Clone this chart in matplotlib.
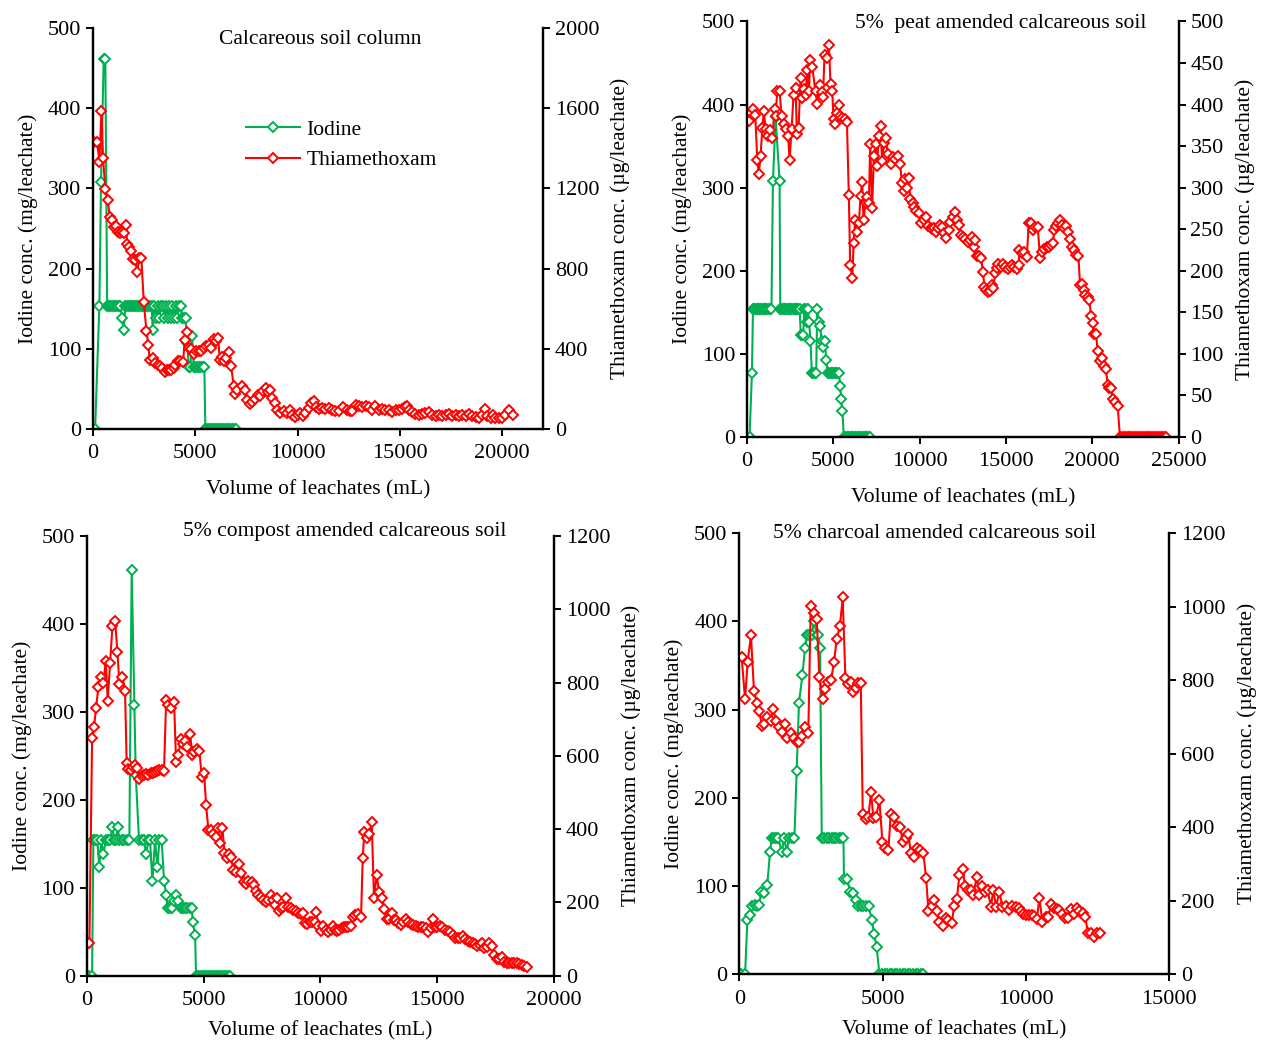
import matplotlib
matplotlib.use('Agg')
import matplotlib.pyplot as plt

plt.rcParams['font.family'] = ['Liberation Serif', 'DejaVu Serif']
plt.rcParams['font.size'] = 15.5

GREEN = '#00B050'
RED = '#FF0000'

# ---- Calcareous soil column ----
cal_iod_x = [100, 310, 390, 520, 600, 690, 770, 850, 930, 1010, 1090, 1170, 1250, 1340, 1420, 1500,
             1580, 1660, 1740, 1820, 1900, 1980, 2060, 2140, 2220, 2300, 2380, 2460, 2540, 2620, 2700,
             2780, 2860, 2920, 3000, 3080, 3160, 3240, 3320, 3400, 3480, 3560, 3640, 3720, 3800, 3880,
             3960, 4040, 4120, 4200, 4280, 4360, 4440, 4520, 4600, 4680, 4760, 4840, 4920, 5000, 5080,
             5160, 5240, 5320, 5400, 5440, 5490, 5570, 5650, 5730, 5810, 5890, 5970, 6050, 6130, 6210,
             6290, 6370, 6450, 6530, 6610, 6690, 6770, 6850, 6930, 7010]
cal_iod_y = [0, 153.8, 307.7, 461.5, 461.5, 153.8, 153.8, 153.8, 153.8, 153.8, 153.8, 153.8, 153.8, 153.8, 138.5, 123.1,
             153.8, 153.8, 153.8, 153.8, 153.8, 153.8, 153.8, 153.8, 153.8, 153.8, 153.8, 153.8, 153.8, 153.8, 153.8,
             153.8, 153.8, 123.1, 153.8, 138.5, 153.8, 138.5, 153.8, 153.8, 138.5, 153.8, 138.5, 153.8, 138.5, 153.8,
             138.5, 153.8, 138.5, 153.8, 153.8, 138.5, 138.5, 138.5, 107.7, 76.9, 76.9, 115.4, 76.9, 76.9, 76.9,
             76.9, 76.9, 76.9, 76.9, 76.9, 0, 0, 0, 0, 0, 0, 0, 0, 0, 0,
             0, 0, 0, 0, 0, 0, 0, 0, 0, 0]
cal_thx_x = [30, 200, 310, 410, 490, 600, 720, 815, 930, 1010, 1125, 1205, 1300, 1420, 1500, 1630, 1660,
             1780, 1875, 1960, 2070, 2150, 2270, 2360, 2480, 2610, 2705, 2770, 2935, 3050, 3180, 3290,
             3390, 3505, 3620, 3730, 3830, 3945, 4025, 4140, 4270, 4400, 4480, 4600, 4680, 4810, 4920,
             5040, 5170, 5280, 5410, 5525, 5655, 5790, 5900, 6015, 6115, 6195, 6310, 6420, 6520, 6630,
             6750, 6880, 6960, 7040, 7290, 7420, 7530, 7660, 7780, 7900, 8050, 8180, 8310, 8430, 8540,
             8640, 8750, 8870, 9000, 9160, 9320, 9490, 9620, 9730, 9860, 10010, 10140, 10270, 10380,
             10550, 10660, 10790, 10920, 11035, 11200, 11360, 11520, 11690, 11850, 12010, 12225, 12390,
             12550, 12665, 12830, 12990, 13150, 13320, 13480, 13640, 13800, 13965, 14130, 14290, 14450,
             14620, 14785, 14950, 15110, 15270, 15355, 15435, 15600, 15760, 15930, 16090, 16250, 16415,
             16575, 16740, 16900, 17065, 17230, 17390, 17555, 17720, 17880, 18045, 18210, 18370, 18530,
             18700, 18860, 19020, 19140, 19270, 19430, 19560, 19670, 19840, 20000, 20160, 20330, 20520]
cal_thx_y = [1433, 1433, 1333, 1587, 1350, 1197, 1142, 1059, 1042, 1009, 1013, 984, 976, 984, 976, 1018, 921,
             910, 890, 847, 843, 785, 852, 855, 632, 490, 420, 342, 354, 329, 320, 312,
             304, 284, 295, 292, 295, 304, 320, 337, 337, 332, 445, 483, 403, 398, 373,
             387, 390, 390, 403, 415, 420, 403, 448, 437, 453, 345, 358, 337, 354, 382,
             312, 212, 176, 196, 216, 196, 146, 126, 133, 149, 171, 166, 188, 204, 183,
             193, 154, 129, 93, 80, 88, 80, 96, 71, 58, 71, 80, 66, 80,
             105, 129, 138, 108, 100, 103, 100, 103, 96, 91, 88, 108, 96,
             91, 88, 121, 116, 110, 113, 108, 96, 113, 96, 100, 96, 93,
             83, 93, 96, 100, 108, 113, 96, 83, 76, 71, 76, 80, 83,
             71, 66, 71, 66, 71, 75, 66, 70, 63, 70, 66, 76, 66,
             60, 55, 71, 100, 63, 55, 71, 55, 55, 55, 71, 93, 71]

# ---- 5% peat amended ----
peat_iod_x = [150, 290, 350, 420, 490, 560, 630, 700, 770, 840, 910, 980, 1050, 1120, 1190, 1260, 1330,
              1420, 1505, 1660, 1890, 1930, 2000, 2070, 2140, 2210, 2280, 2350, 2420, 2490, 2560, 2630,
              2700, 2770, 2840, 2910, 2980, 3050, 3120, 3190, 3260, 3330, 3400, 3460, 3530, 3600, 3680,
              3760, 3840, 3930, 4010, 4070, 4150, 4240, 4330, 4420, 4500, 4600, 4680, 4760, 4840, 4920,
              5000, 5080, 5160, 5240, 5320, 5400, 5460, 5530, 5610, 5690, 5770, 5850, 5930, 6010, 6090,
              6170, 6250, 6330, 6410, 6490, 6570, 6650, 6730, 6810, 6890, 6970, 7050, 7100]
peat_iod_y = [0, 76.9, 153.8, 153.8, 153.8, 153.8, 153.8, 153.8, 153.8, 153.8, 153.8, 153.8, 153.8, 153.8, 153.8, 153.8, 153.8,
              153.8, 307.7, 384.6, 307.7, 153.8, 153.8, 153.8, 153.8, 153.8, 153.8, 153.8, 153.8, 153.8, 153.8, 153.8,
              153.8, 153.8, 153.8, 153.8, 153.8, 153.8, 123.1, 123.1, 123.1, 153.8, 153.8, 138.5, 153.8, 138.5, 115.4,
              76.9, 76.9, 76.9, 76.9, 153.8, 138.5, 133.0, 115.4, 107.7, 115.4, 92.3, 76.9, 76.9, 76.9, 76.9,
              76.9, 76.9, 76.9, 76.9, 76.9, 61.5, 46.2, 30.8, 0, 0, 0, 0, 0, 0, 0,
              0, 0, 0, 0, 0, 0, 0, 0, 0, 0, 0, 0, 0]
peat_thx_x = [100, 210, 350, 480, 600, 690, 790, 890, 980, 1080, 1215, 1310, 1470, 1600, 1660, 1755, 1890,
              2005, 2120, 2275, 2390, 2470, 2585, 2700, 2815, 2895, 2990, 3105, 3200, 3300, 3395, 3490,
              3590, 3665, 3780, 3975, 4070, 4205, 4320, 4400, 4495, 4630, 4745, 4840, 4940, 5015, 5110,
              5210, 5305, 5400, 5520, 5650, 5790, 5900, 5980, 6100, 6175, 6270, 6365, 6480, 6580, 6675,
              6750, 6870, 6965, 7060, 7140, 7250, 7350, 7445, 7520, 7640, 7735, 7830, 7930, 8025, 8160,
              8315, 8450, 8600, 8740, 8870, 8970, 9070, 9180, 9280, 9375, 9470, 9610, 9700, 9800, 9950,
              10090, 10240, 10380, 10510, 10630, 10725, 10860, 10960, 11090, 11190, 11285, 11400, 11535,
              11690, 11785, 11920, 12055, 12150, 12270, 12400, 12540, 12655, 12790, 12925, 13040, 13135,
              13235, 13310, 13425, 13560, 13660, 13755, 13850, 13985, 14100, 14200, 14275, 14370, 14470,
              14565, 14720, 14855, 14970, 15105, 15240, 15355, 15490, 15625, 15740, 15780, 15930, 16070,
              16205, 16320, 16455, 16550, 16685, 16840, 16975, 17090, 17225, 17360, 17475, 17610, 17710,
              17805, 17900, 17995, 18130, 18250, 18385, 18480, 18615, 18710, 18830, 18960, 19060, 19195,
              19290, 19405, 19500, 19600, 19730, 19830, 19925, 20020, 20120, 20215, 20310, 20450, 20560,
              20660, 20795, 20890, 20990, 21085, 21180, 21335, 21470, 21600, 21710, 21820, 21930, 22040,
              22150, 22260, 22370, 22480, 22590, 22700, 22810, 22920, 23030, 23140, 23250, 23360, 23470,
              23580, 23690, 23800, 23910, 24020, 24130, 24240]
peat_thx_y = [380, 390, 394, 387, 333, 317, 338, 372, 392, 370, 362, 369, 360, 394, 386, 416, 416,
              386, 376, 370, 362, 333, 370, 412, 420, 364, 372, 432, 408, 419, 412, 441,
              416, 453, 445, 416, 401, 424, 415, 409, 460, 456, 472, 425, 416, 382, 376,
              390, 400, 386, 384, 383, 379, 291, 207, 191, 233, 261, 247, 257, 290, 307,
              261, 282, 289, 282, 352, 275, 338, 352, 326, 362, 374, 332, 354, 360, 341,
              328, 337, 334, 338, 328, 306, 296, 310, 300, 312, 286, 282, 277, 272, 269,
              257, 261, 265, 254, 251, 250, 251, 247, 251, 255, 253, 245, 239,
              249, 259, 265, 271, 261, 255, 243, 241, 238, 235, 237, 241, 229,
              237, 218, 218, 215, 199, 181, 177, 175, 176, 183, 179, 197, 203,
              208, 205, 208, 205, 202, 205, 207, 204, 202, 207, 225, 221, 222,
              217, 257, 257, 249, 253, 253, 215, 223, 226, 229, 229, 231, 233,
              249, 254, 258, 261, 255, 251, 254, 247, 238, 229, 225, 219, 218,
              183, 184, 177, 171, 168, 165, 145, 137, 124, 124, 103, 91, 95,
              86, 82, 63, 59, 59, 46, 42, 37, 0, 0, 0, 0, 0,
              0, 0, 0, 0, 0, 0, 0, 0, 0, 0, 0, 0, 0,
              0, 0, 0, 0, 0, 0, 0]

# ---- 5% compost amended ----
comp_iod_x = [115, 230, 285, 370, 455, 540, 615, 715, 815, 900, 1000, 1100, 1185, 1255, 1325, 1400,
              1500, 1600, 1710, 1825, 1925, 2040, 2100, 2240, 2355, 2455, 2540, 2640, 2710, 2810, 2925,
              3025, 3110, 3210, 3310, 3400, 3470, 3570, 3670, 3750, 3825, 3925, 4025, 4110, 4210, 4310,
              4425, 4495, 4540, 4640, 4680, 4760, 4840, 4920, 5000, 5080, 5160, 5240, 5320, 5400, 5480,
              5560, 5640, 5720, 5800, 5880, 5960, 6040, 6120]
comp_iod_y = [0, 0, 153.8, 153.8, 153.8, 123.1, 153.8, 138.5, 153.8, 153.8, 153.8, 169.2, 153.8, 153.8, 169.2, 153.8,
              153.8, 153.8, 153.8, 153.8, 461.5, 307.7, 228.0, 153.8, 153.8, 153.8, 138.5, 153.8, 153.8, 107.7, 153.8,
              123.1, 153.8, 153.8, 107.7, 92.3, 76.9, 76.9, 76.9, 84.6, 92.3, 84.6, 76.9, 76.9, 76.9, 76.9,
              76.9, 76.9, 61.5, 46.2, 0, 0, 0, 0, 0, 0, 0, 0, 0, 0, 0,
              0, 0, 0, 0, 0, 0, 0, 0]
comp_thx_x = [115, 230, 315, 400, 500, 615, 715, 815, 900, 1000, 1100, 1215, 1315, 1400, 1525, 1640, 1710,
              1785, 1885, 1970, 2070, 2170, 2255, 2355, 2455, 2540, 2640, 2740, 2825, 2925, 3025, 3110,
              3210, 3310, 3400, 3500, 3610, 3740, 3825, 3925, 4025, 4110, 4210, 4310, 4425, 4525, 4610,
              4710, 4825, 4925, 5025, 5110, 5210, 5310, 5420, 5525, 5620, 5710, 5810, 5895, 5995, 6095,
              6180, 6280, 6395, 6520, 6605, 6735, 6820, 6920, 7065, 7165, 7250, 7350, 7465, 7565, 7675,
              7775, 7875, 7960, 8060, 8135, 8235, 8320, 8420, 8535, 8635, 8735, 8850, 8960, 9060, 9160,
              9250, 9350, 9450, 9560, 9660, 9775, 9820, 9920, 10020, 10130, 10245, 10345, 10445, 10530,
              10630, 10730, 10815, 10915, 11015, 11100, 11200, 11300, 11390, 11485, 11600, 11745, 11815,
              11885, 11985, 12100, 12200, 12300, 12415, 12515, 12630, 12730, 12845, 12945, 13055, 13155,
              13245, 13340, 13440, 13555, 13655, 13770, 13870, 13985, 14100, 14200, 14300, 14410, 14525,
              14625, 14725, 14810, 14910, 15010, 15125, 15225, 15340, 15455, 15555, 15670, 15770, 15880,
              15980, 16095, 16195, 16310, 16410, 16525, 16625, 16725, 16840, 16940, 17025, 17125, 17240,
              17340, 17440, 17550, 17665, 17765, 17865, 17980, 18095, 18195, 18295, 18410, 18525, 18620,
              18720, 18835]
comp_thx_y = [90, 648, 680, 731, 787, 814, 800, 859, 751, 854, 954, 968, 884, 796, 814, 778, 581,
              563, 561, 570, 575, 566, 536, 545, 548, 550, 548, 552, 554, 557, 560, 561,
              561, 560, 752, 739, 730, 748, 584, 602, 645, 632, 641, 625, 660, 602, 611,
              620, 614, 541, 554, 466, 398, 399, 387, 379, 402, 361, 402, 336, 320, 331,
              323, 288, 284, 305, 281, 257, 250, 259, 257, 247, 232, 220, 216, 207, 202,
              208, 220, 207, 193, 213, 177, 184, 188, 211, 187, 184, 179, 177, 172, 168,
              170, 145, 141, 147, 147, 147, 175, 136, 123, 136, 126, 120, 126, 136,
              125, 123, 126, 129, 132, 132, 134, 136, 159, 166, 168, 161, 320,
              393, 375, 387, 420, 213, 275, 229, 211, 181, 154, 156, 170, 152,
              152, 143, 138, 147, 154, 147, 141, 138, 136, 134, 132, 132, 129,
              120, 129, 154, 132, 132, 136, 132, 126, 123, 120, 111, 102, 104,
              102, 108, 99, 96, 93, 90, 86, 81, 84, 90, 75, 79, 88,
              81, 56, 45, 45, 50, 38, 35, 35, 34, 35, 34, 32, 29,
              26, 23]

# ---- 5% charcoal amended ----
char_iod_x = [50, 200, 280, 370, 455, 545, 605, 700, 755, 860, 975, 1070, 1130, 1210, 1280, 1360, 1475,
              1570, 1650, 1735, 1825, 1920, 2000, 2080, 2200, 2290, 2350, 2430, 2525, 2605, 2700, 2755,
              2815, 2875, 2960, 3045, 3130, 3215, 3300, 3385, 3470, 3555, 3630, 3650, 3770, 3860, 3980,
              4070, 4150, 4235, 4325, 4420, 4510, 4620, 4700, 4790, 4885, 4975, 5065, 5155, 5245, 5335,
              5425, 5515, 5605, 5695, 5785, 5875, 5965, 6055, 6145, 6235, 6325, 6415]
char_iod_y = [0, 0, 62, 67, 77, 79, 77, 79, 93, 92, 101, 139, 154, 154, 154, 154, 139,
              154, 139, 154, 154, 154, 231, 308, 339, 370, 385, 385, 385, 400, 385, 385,
              370, 154, 154, 154, 154, 154, 154, 154, 154, 154, 154, 108, 108, 93, 92,
              84, 77, 77, 77, 77, 77, 62, 46, 31, 0, 0, 0, 0, 0, 0,
              0, 0, 0, 0, 0, 0, 0, 0, 0, 0, 0, 0]
char_thx_x = [80, 200, 290, 405, 510, 605, 700, 780, 860, 955, 1095, 1185, 1280, 1370, 1475, 1595, 1675,
              1790, 1905, 2000, 2095, 2175, 2290, 2405, 2490, 2605, 2700, 2790, 2905, 3000, 3105, 3200,
              3305, 3395, 3510, 3605, 3700, 3790, 3895, 3980, 4070, 4150, 4235, 4305, 4410, 4500, 4595,
              4675, 4770, 4885, 4990, 5080, 5200, 5280, 5395, 5490, 5605, 5700, 5805, 5895, 5980, 6095,
              6210, 6305, 6420, 6515, 6595, 6710, 6805, 6885, 6980, 7095, 7200, 7290, 7410, 7490, 7585,
              7675, 7790, 7875, 7965, 8080, 8165, 8280, 8375, 8480, 8570, 8665, 8770, 8860, 8955, 9070,
              9175, 9290, 9410, 9525, 9640, 9760, 9830, 9910, 10000, 10105, 10200, 10290, 10375, 10465,
              10570, 10690, 10780, 10875, 10980, 11070, 11165, 11270, 11360, 11455, 11560, 11655, 11770,
              11860, 11980, 12070, 12155, 12260, 12375, 12470, 12585]
char_thx_y = [862, 749, 851, 922, 772, 739, 717, 676, 681, 701, 688, 722, 688, 674, 660, 681, 642,
              656, 642, 633, 633, 649, 674, 656, 1002, 982, 966, 810, 749, 775, 794, 801,
              851, 912, 948, 1026, 805, 790, 795, 769, 778, 792, 792, 436, 422, 429, 495,
              424, 429, 473, 361, 344, 339, 436, 427, 404, 402, 361, 370, 382, 331, 320,
              343, 339, 329, 261, 173, 186, 202, 171, 141, 132, 152, 148, 139, 186, 204,
              270, 286, 240, 229, 229, 216, 266, 216, 240, 225, 228, 184, 228, 184, 225,
              184, 186, 175, 186, 182, 180, 173, 164, 161, 161, 161, 159, 150, 207,
              143, 155, 157, 191, 180, 177, 175, 164, 152, 152, 177, 164, 180,
              173, 168, 155, 113, 112, 102, 112, 113]

L_LABEL = 'Iodine conc. (mg/leachate)'
R_LABEL = 'Thiamethoxam conc. (µg/leachate)'
X_LABEL = 'Volume of leachates (mL)'

fig = plt.figure(figsize=(12.66, 10.43), dpi=100)


def style(ax):
    ax.spines['top'].set_visible(False)
    for s in ('left', 'right', 'bottom'):
        ax.spines[s].set_linewidth(1.6)
    ax.tick_params(direction='out', length=5, width=1.4, labelsize=16)
    ax.tick_params(axis='x', pad=6)


def panel(rect, title, tpos, ix, iy, tx, ty, xmax, xstep, rmax, rstep, xpad=12):
    ax = fig.add_axes(rect)
    ax2 = ax.twinx()
    style(ax)
    style(ax2)
    kw = dict(marker='D', markersize=4.8, markerfacecolor='white', markeredgewidth=1.4, linewidth=1.5)
    l1, = ax.plot(ix, iy, color=GREEN, markeredgecolor=GREEN, label='Iodine', **kw)
    l2, = ax2.plot(tx, ty, color=RED, markeredgecolor=RED, label='Thiamethoxam', **kw)
    ax.set_xlim(0, xmax)
    ax.set_xticks(range(0, xmax + 1, xstep))
    ax.set_ylim(0, 500)
    ax.set_yticks(range(0, 501, 100))
    ax2.set_ylim(0, rmax)
    ax2.set_yticks(range(0, rmax + 1, rstep))
    ax.set_xlabel(X_LABEL, fontsize=15.5, labelpad=xpad)
    ax.set_ylabel(L_LABEL, fontsize=15.5, labelpad=7)
    ax2.set_ylabel(R_LABEL, fontsize=15.5, labelpad=8)
    ax.text(tpos[0], tpos[1], title, transform=ax.transAxes, ha='center', va='center', fontsize=15.5)
    return ax, l1, l2


ax1, h1, h2 = panel([0.0735, 0.5887, 0.3555, 0.3845], 'Calcareous soil column', (0.504, 0.97),
                    cal_iod_x, cal_iod_y, cal_thx_x, cal_thx_y, 22000, 5000, 2000, 400)
ax1.set_xticks(range(0, 20001, 5000))
ax1.legend([h1, h2], ['Iodine', 'Thiamethoxam'], loc='upper left', bbox_to_anchor=(0.297, 0.82),
           frameon=False, handlelength=2.5, handletextpad=0.3, labelspacing=0.5, fontsize=15.5)

panel([0.590, 0.581, 0.341, 0.3985], '5%  peat amended calcareous soil', (0.588, 0.996),
      peat_iod_x, peat_iod_y, peat_thx_x, peat_thx_y, 25000, 5000, 500, 50)

panel([0.0685, 0.0645, 0.369, 0.4216], '5% compost amended calcareous soil', (0.553, 1.011),
      comp_iod_x, comp_iod_y, comp_thx_x, comp_thx_y, 20000, 5000, 1200, 200, xpad=8)

panel([0.584, 0.0659, 0.3397, 0.4228], '5% charcoal amended calcareous soil', (0.455, 1.0),
      char_iod_x, char_iod_y, char_thx_x, char_thx_y, 15000, 5000, 1200, 200, xpad=8)

fig.savefig('out.png', dpi=100)
